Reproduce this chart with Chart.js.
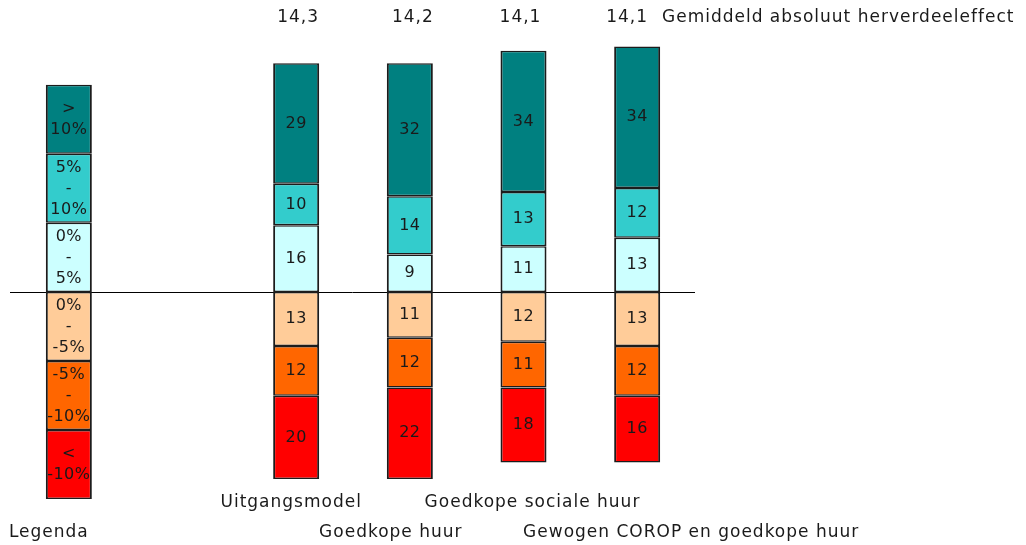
<!DOCTYPE html>
<html><head><meta charset="utf-8">
<script src="https://cdn.jsdelivr.net/npm/chart.js@4"></script>
<style>html,body{margin:0;padding:0;background:#fff}#wrap{width:1026px;height:545px;position:relative}</style>
</head><body><div id="wrap"><canvas id="c"></canvas></div>
<script>
const categories = ['Legenda', '', 'Uitgangsmodel', 'Goedkope huur', 'Goedkope sociale huur', 'Gewogen COROP en goedkope huur'];
const legendSegment = 16.6;
const pos0to5   = [legendSegment, null, 16, 9, 11, 13];
const pos5to10  = [legendSegment, null, 10, 14, 13, 12];
const posOver10 = [legendSegment, null, 29, 32, 34, 34];
const neg0to5   = [-legendSegment, null, -13, -11, -12, -13];
const neg5to10  = [-legendSegment, null, -12, -12, -11, -12];
const negOver10 = [-legendSegment, null, -20, -22, -18, -16];
const averageEffect = ['', '', '14,3', '14,2', '14,1', '14,1'];
const averageTitle = 'Gemiddeld absoluut herverdeeleffect';
const legendTexts = {
  '> 10%': ['>', '10%'],
  '5% - 10%': ['5%', '-', '10%'],
  '0% - 5%': ['0%', '-', '5%'],
  '0% - -5%': ['0%', '-', '-5%'],
  '-5% - -10%': ['-5%', '-', '-10%'],
  '< -10%': ['<', '-10%']
};

const FONT = '"DejaVu Sans", Verdana, sans-serif';
const TXT = '#1a1a1a';

function ds(label, data, color) {
  return { label, data, backgroundColor: color, borderColor: '#1c1c1c',
           borderWidth: { top: 1.5, bottom: 1.5, left: 2, right: 2 },
           borderSkipped: false, stack: 's', barPercentage: 0.405, categoryPercentage: 1 };
}

const labelsPlugin = {
  id: 'labelsPlugin',
  beforeDatasetsDraw(chart) {
    const ctx = chart.ctx, y0 = chart.scales.y.getPixelForValue(0);
    ctx.save();
    ctx.strokeStyle = '#000'; ctx.lineWidth = 1;
    ctx.beginPath(); ctx.moveTo(10, Math.round(y0) + 0.5); ctx.lineTo(695, Math.round(y0) + 0.5); ctx.stroke();
    ctx.restore();
  },
  afterDatasetsDraw(chart) {
    const ctx = chart.ctx, xs = chart.scales.x;
    ctx.save();
    ctx.fillStyle = TXT; ctx.textAlign = 'center'; ctx.textBaseline = 'middle';
    chart.data.datasets.forEach((d, di) => {
      const meta = chart.getDatasetMeta(di);
      meta.data.forEach((el, i) => {
        if (d.data[i] == null) return;
        const cy = (el.y + el.base) / 2;
        ctx.font = '16px ' + FONT;
        ctx.letterSpacing = '0.5px';
        if (i === 0) {
          const lines = legendTexts[d.label];
          const lh = 21;
          lines.forEach((t, k) => ctx.fillText(t, el.x, cy + (k - (lines.length - 1) / 2) * lh));
        } else {
          ctx.fillText(String(Math.abs(d.data[i])), el.x, cy);
        }
      });
    });
    ctx.font = '17px ' + FONT;
    ctx.letterSpacing = '1px';
    const topOff = [0, 0, 2, 3, -3, -10];
    averageEffect.forEach((t, i) => { if (t) ctx.fillText(t, xs.getPixelForValue(i) + topOff[i], 18); });
    ctx.textAlign = 'left';
    ctx.fillText(averageTitle, 662, 18);
    ctx.textAlign = 'center';
    const catOff = [-20, 0, -5, -19, 9, 54];
    const rowY = [503, 533];
    const row = [1, 0, 0, 1, 0, 1];
    categories.forEach((t, i) => { if (t) ctx.fillText(t, xs.getPixelForValue(i) + catOff[i], rowY[row[i]]); });
    ctx.restore();
  }
};

new Chart(document.getElementById('c'), {
  type: 'bar',
  data: {
    labels: categories,
    datasets: [
      ds('0% - 5%', pos0to5, '#CCFFFF'),
      ds('0% - -5%', neg0to5, '#FFCC99'),
      ds('5% - 10%', pos5to10, '#33CCCC'),
      ds('-5% - -10%', neg5to10, '#FF6600'),
      ds('> 10%', posOver10, '#008080'),
      ds('< -10%', negOver10, '#FF0000')
    ]
  },
  options: {
    responsive: true, maintainAspectRatio: false, animation: false,
    layout: { padding: { left: 12, right: 332, top: 21.6, bottom: 24.4 } },
    plugins: { legend: { display: false }, tooltip: { enabled: false } },
    scales: {
      x: { display: false, stacked: true },
      y: { display: false, stacked: true, min: -55, max: 65 }
    }
  },
  plugins: [labelsPlugin]
});
</script>
</body></html>
